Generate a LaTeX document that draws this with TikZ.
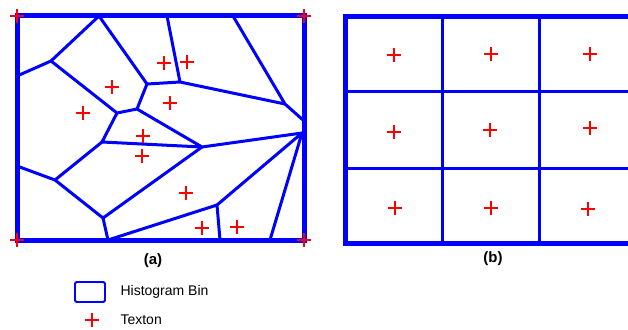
\documentclass[tikz,border=0pt]{standalone}
\usepackage{fontspec}
\setmainfont{Liberation Sans}
\usetikzlibrary{calc}

\tikzset{
  binline/.style={blue, line width=3pt, line join=round},
  binframe/.style={blue, line width=5pt},
  texton/.pic={\draw[red, line width=2.8pt] (-6.8,0) -- (6.8,0) (0,-6.8) -- (0,6.8);},
  caption/.style={font=\bfseries\fontsize{15}{15}\selectfont},
  legendtext/.style={anchor=west, font=\fontsize{14}{14}\selectfont}
}

\begin{document}
\begin{tikzpicture}[x=1pt,y=-1pt]
            \useasboundingbox (0,0) rectangle (628,329);
            % (a) ボロノイ分割
            \coordinate (A) at (99,16);   \coordinate (B) at (51,61);
            \coordinate (C) at (147,84);  \coordinate (D) at (137,109);
            \coordinate (E) at (117,113); \coordinate (F) at (180,82);
            \coordinate (G) at (285,104); \coordinate (K) at (202,147);
            \coordinate (L) at (102,142); \coordinate (M) at (55,180);
            \coordinate (N) at (103,218); \coordinate (O) at (217,205);
            \coordinate (T2) at (167,16); \coordinate (T3) at (233,16);
            \coordinate (R1) at (303,120); \coordinate (R2) at (302,133);
            \coordinate (L1) at (17,76);  \coordinate (L2) at (17,166);
            \coordinate (B1) at (108,240); \coordinate (B2) at (220,240);
            \coordinate (B3) at (270,240);
            \draw[binline] (L1) -- (B) -- (A) (B) -- (E) -- (D) -- (C) -- (A); %左上
            \draw[binline] (C) -- (F) -- (T2) (F) -- (G) -- (T3) (G) -- (R1); %右上
            \draw[binline] (D) -- (K) -- (R2) (E) -- (L) -- (K); %中央
            \draw[binline] (L) -- (M) -- (L2) (M) -- (N) -- (K) (N) -- (B1) -- (O) -- (B2); %下
            \draw[binline] (O) -- (R2) -- (B3); %右下
            \draw[binframe] (17,16) rectangle (304,240); %外枠
            \foreach \p in {(17,16),(304,16),(17,240),(304,240),(164,63),(187,62),(112,87),(170,103),
                            (83,113),(143,136),(142,156),(186,193),(202,228),(237,227)}
              \pic at \p {texton};
            \node[caption] (capa) at (153,261) {(a)};
            % (b) 格子
            \draw[binline] (442,17) -- (442,243) (539,17) -- (539,243);
            \draw[binline] (345,91) -- (636,91) (345,168) -- (636,168);
            \draw[binframe] (345,17) rectangle (636,243); %外枠
            \foreach \p in {(394,55),(491,54),(590,54),(394,132),(490,130),(590,128),(395,208),(491,208),(588,209)}
              \pic at \p {texton};
            \node[caption] (capb) at (493,259) {(b)};
            % 凡例
            \draw[blue, line width=1.8pt, rounded corners=1.5pt] (75,282) rectangle (105,302);
            \node[legendtext] (binlabel) at (117,292) {Histogram Bin};
            \pic at (92,320) {texton};
            \node[legendtext] (textonlabel) at (117,320) {Texton};
        \end{tikzpicture}
\end{document}
